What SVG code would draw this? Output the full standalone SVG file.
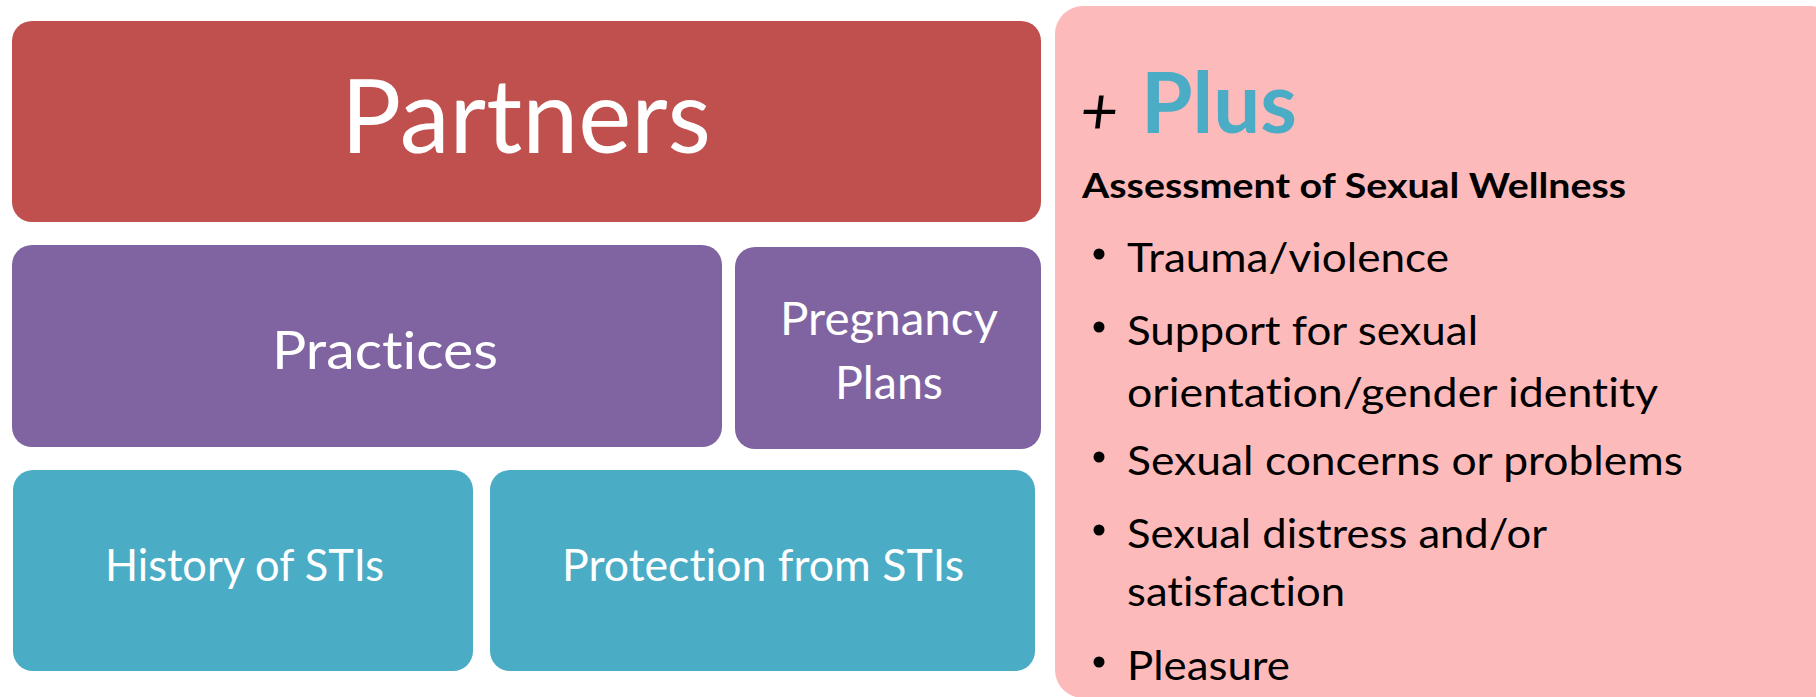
<svg xmlns="http://www.w3.org/2000/svg" width="1816" height="697" viewBox="0 0 1816 697">
<style>
  text { font-variant-ligatures: none; }
  .lbl { font-family: Lato, "Open Sans", "Liberation Sans", sans-serif; fill: #ffffff; text-anchor: middle; }
  .rt { font-family: Lato, "Open Sans", "Liberation Sans", sans-serif; fill: #000000; }
  .red { fill: #C0504D; }
  .purple { fill: #8064A2; }
  .teal { fill: #4BACC6; }
  .pink { fill: #FDBABA; }
</style>
<rect width="1816" height="697" fill="#ffffff"/>
<g id="partners">
  <rect class="red" x="12" y="21" width="1029" height="201" rx="20"/>
  <text class="lbl" x="526" y="153" font-size="102" textLength="370" lengthAdjust="spacingAndGlyphs">Partners</text>
</g>
<g id="practices">
  <rect class="purple" x="12" y="245" width="710" height="202" rx="20"/>
  <text class="lbl" x="385" y="369" font-size="52" textLength="226" lengthAdjust="spacingAndGlyphs">Practices</text>
</g>
<g id="pregnancy-plans">
  <rect class="purple" x="735" y="247" width="306" height="202" rx="20"/>
  <text class="lbl" x="889" y="335" font-size="46" textLength="218" lengthAdjust="spacingAndGlyphs">Pregnancy</text>
  <text class="lbl" x="889" y="399" font-size="46" textLength="108" lengthAdjust="spacingAndGlyphs">Plans</text>
</g>
<g id="history-stis">
  <rect class="teal" x="13" y="470" width="460" height="201" rx="20"/>
  <text class="lbl" x="244.5" y="581" font-size="44" textLength="279" lengthAdjust="spacingAndGlyphs">History of STIs</text>
</g>
<g id="protection-stis">
  <rect class="teal" x="490" y="470" width="545" height="201" rx="20"/>
  <text class="lbl" x="763" y="581" font-size="44" textLength="402" lengthAdjust="spacingAndGlyphs">Protection from STIs</text>
</g>
<g id="plus-panel">
  <rect class="pink" x="1055" y="6" width="783" height="692" rx="28"/>
  <text class="rt" x="1080" y="134" font-size="66" font-style="italic">+</text>
  <text class="rt" x="1141" y="133" font-size="84" font-weight="bold" style="fill:#4BACC6" textLength="156" lengthAdjust="spacingAndGlyphs">Plus</text>
  <text class="rt" x="1082" y="198" font-size="35" font-weight="bold" textLength="544" lengthAdjust="spacingAndGlyphs">Assessment of Sexual Wellness</text>
  <g fill="#000000">
    <circle cx="1099" cy="254" r="5.5"/>
    <circle cx="1099" cy="327" r="5.5"/>
    <circle cx="1099" cy="457" r="5.5"/>
    <circle cx="1099" cy="530" r="5.5"/>
    <circle cx="1099" cy="662" r="5.5"/>
  </g>
  <text class="rt" x="1127" y="272" font-size="41" textLength="322" lengthAdjust="spacingAndGlyphs">Trauma/violence</text>
  <text class="rt" x="1127" y="345" font-size="41" textLength="351" lengthAdjust="spacingAndGlyphs">Support for sexual</text>
  <text class="rt" x="1127" y="407" font-size="41" textLength="531" lengthAdjust="spacingAndGlyphs">orientation/gender identity</text>
  <text class="rt" x="1127" y="475" font-size="41" textLength="556" lengthAdjust="spacingAndGlyphs">Sexual concerns or problems</text>
  <text class="rt" x="1127" y="548" font-size="41" textLength="420" lengthAdjust="spacingAndGlyphs">Sexual distress and/or</text>
  <text class="rt" x="1127" y="606" font-size="41" textLength="218" lengthAdjust="spacingAndGlyphs">satisfaction</text>
  <text class="rt" x="1127" y="680" font-size="41" textLength="163" lengthAdjust="spacingAndGlyphs">Pleasure</text>
</g>
<g id="connectors"/>
</svg>
